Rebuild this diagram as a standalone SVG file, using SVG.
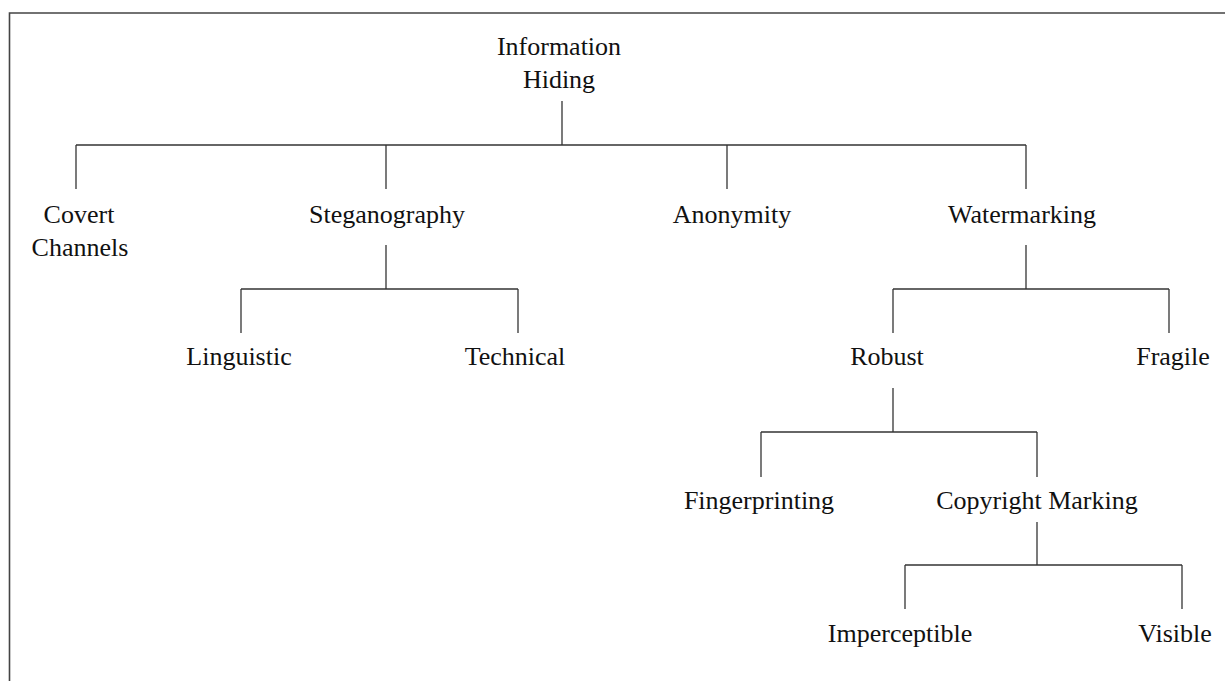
<svg xmlns="http://www.w3.org/2000/svg" width="1225" height="681" viewBox="0 0 1225 681">
<style>
text{font-family:"Liberation Serif","Times New Roman",serif;font-size:26px;fill:#111;text-anchor:middle}
.c line{stroke:#333;stroke-width:1.3}
.frame{stroke:#444;stroke-width:1.6;fill:none}
</style>
<rect width="1225" height="681" fill="#fff"/>
<path class="frame" d="M9.5 681 V13 H1225"/>
<g class="c" id="connectors">
<line x1="562" y1="101" x2="562" y2="145"/>
<line x1="76" y1="145" x2="1026" y2="145"/>
<line x1="76" y1="145" x2="76" y2="189"/>
<line x1="386" y1="145" x2="386" y2="189"/>
<line x1="727" y1="145" x2="727" y2="189"/>
<line x1="1026" y1="145" x2="1026" y2="189"/>
<line x1="386" y1="245" x2="386" y2="289"/>
<line x1="241" y1="289" x2="518" y2="289"/>
<line x1="241" y1="289" x2="241" y2="333"/>
<line x1="518" y1="289" x2="518" y2="333"/>
<line x1="1026" y1="245" x2="1026" y2="289"/>
<line x1="893" y1="289" x2="1169" y2="289"/>
<line x1="893" y1="289" x2="893" y2="333"/>
<line x1="1169" y1="289" x2="1169" y2="333"/>
<line x1="893" y1="388" x2="893" y2="432"/>
<line x1="761" y1="432" x2="1037" y2="432"/>
<line x1="761" y1="432" x2="761" y2="477"/>
<line x1="1037" y1="432" x2="1037" y2="477"/>
<line x1="1037" y1="522" x2="1037" y2="565"/>
<line x1="905" y1="565" x2="1182" y2="565"/>
<line x1="905" y1="565" x2="905" y2="609"/>
<line x1="1182" y1="565" x2="1182" y2="609"/>
</g>
<g id="information-hiding"><text x="559" y="55">Information</text><text x="559" y="88">Hiding</text></g>
<g id="covert-channels"><text x="79" y="223">Covert</text><text x="80" y="256">Channels</text></g>
<g id="steganography"><text x="387" y="223">Steganography</text></g>
<g id="anonymity"><text x="732" y="223">Anonymity</text></g>
<g id="watermarking"><text x="1022" y="223">Watermarking</text></g>
<g id="linguistic"><text x="239" y="365">Linguistic</text></g>
<g id="technical"><text x="515" y="365">Technical</text></g>
<g id="robust"><text x="887" y="365">Robust</text></g>
<g id="fragile"><text x="1173" y="365">Fragile</text></g>
<g id="fingerprinting"><text x="759" y="509">Fingerprinting</text></g>
<g id="copyright-marking"><text x="1037" y="509">Copyright Marking</text></g>
<g id="imperceptible"><text x="900" y="642">Imperceptible</text></g>
<g id="visible"><text x="1175" y="642">Visible</text></g>
</svg>
